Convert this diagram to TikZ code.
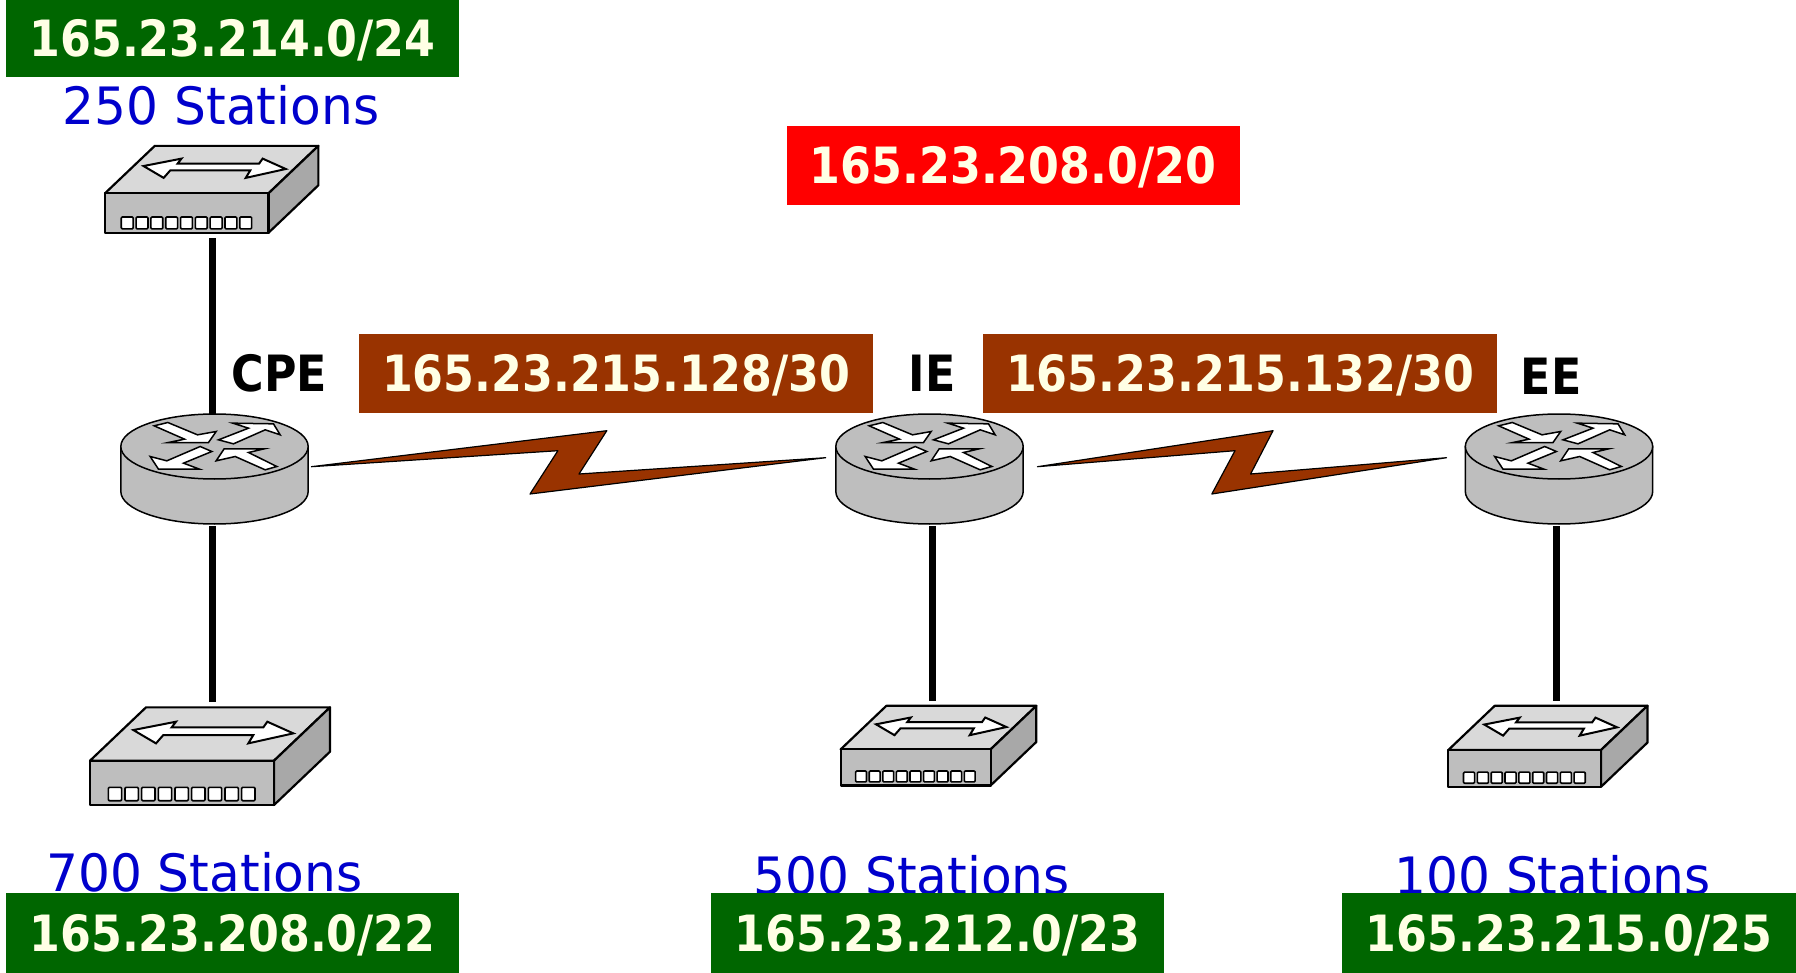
\documentclass[tikz,border=0pt]{standalone}
\usepackage{fontspec}
\setmainfont{DejaVu Sans}
\newfontfamily\boldlbl[FakeStretch=.887]{DejaVu Sans Bold}
\newfontfamily\plainlbl[FakeStretch=.975]{DejaVu Sans}
\definecolor{netgreen}{HTML}{006600}
\definecolor{netbrown}{HTML}{993300}
\definecolor{netred}{HTML}{FF0000}
\definecolor{netblue}{HTML}{0000CC}
\definecolor{netcream}{HTML}{FFFFE5}
\definecolor{devmid}{HTML}{BEBEBE}
\definecolor{devlight}{HTML}{D9D9D9}
\definecolor{devdark}{HTML}{A8A8A8}
\tikzset{
  prefix/.style={fill=#1,text=netcream,inner sep=0pt,minimum width=453pt,
    text height=36.5pt,text depth=0pt,align=center,
    font=\boldlbl\fontsize{50}{60}\selectfont},
  stationlbl/.style={text=netblue,inner sep=0pt,anchor=base,
    font=\plainlbl\fontsize{51.5}{60}\selectfont},
  routerlbl/.style={text=black,inner sep=0pt,anchor=base,
    font=\boldlbl\fontsize{50}{60}\selectfont},
  ghost/.style={inner sep=0pt,minimum width=10pt},
  lanlink/.style={line width=6.5pt,black},
  wanlink/.style={fill=netbrown,draw=black,line width=1.2pt,line join=round},
  glyph/.style={fill=white,draw=black,line width=1.5pt,line join=miter},
  router/.pic={
    \begin{scope}[scale=1/3]
    \path[draw=black,fill=devmid,line width=1.5pt]
      (-281,0) -- (-281,135) arc[start angle=180,end angle=0,x radius=281,y radius=97.5]
      -- (281,0) -- cycle;
    \path[draw=black,fill=devmid,line width=1.5pt] (0,0) ellipse[x radius=281,y radius=97.5];
    \path[glyph] (-181,-62) -- (-140,-72) -- (-51,-35) -- (5,-45) -- (-18,-12) -- (-138,-12) -- (-90,-22) -- cycle;
    \path[glyph] (12,-20) -- (102,-55) -- (55,-70) -- (177,-68) -- (197,-35) -- (152,-50) -- (57,-8) -- cycle;
    \path[glyph] (-43,0) -- (-8,15) -- (-93,50) -- (-45,68) -- (-168,68) -- (-193,30) -- (-143,43) -- cycle;
    \path[glyph] (187,60) -- (152,70) -- (62,30) -- (5,43) -- (29,7) -- (149,7) -- (102,18) -- cycle;
    \end{scope}
  },
  switchbox/.pic={
    \begin{scope}[scale=1/3,line join=round]
    \path[draw=black,fill=devlight,line width=2.2pt] (0,0) -- (168,-160) -- (720,-160) -- (552,0) -- cycle;
    \path[draw=black,fill=devdark,line width=2.2pt] (552,0) -- (720,-160) -- (720,-27) -- (552,133) -- cycle;
    \path[draw=black,fill=devmid,line width=2.2pt] (0,0) rectangle (552,133);
    \path[glyph,line width=2pt] (130,-92) -- (258,-117) -- (245,-100) -- (520,-100) -- (532,-117) -- (610,-82) -- (475,-52) -- (490,-77) -- (220,-77) -- (198,-52) -- cycle;
    \foreach \k in {0,...,8}
      \path[draw=black,fill=white,line width=1.6pt,rounded corners=1pt] ({55+50*\k},80) rectangle ++(40,40);
    \end{scope}
  }
}
\begin{document}
\begin{tikzpicture}[x=1pt,y=-1pt]
\useasboundingbox[fill=white] (0,0) rectangle (1796,973);

% invisible anchors of the devices
\node[ghost,minimum height=91.3pt] (sw1) at (212.7,192.35) {};
\node[ghost,minimum height=112pt] (r1) at (212.7,470) {};
\node[ghost,minimum height=100pt] (sw2) at (212.7,752) {};
\node[ghost,minimum height=112pt] (r2) at (932.7,470) {};
\node[ghost,minimum height=85pt] (sw3) at (932.7,743.5) {};
\node[ghost,minimum height=112pt] (r3) at (1556.7,470) {};
\node[ghost,minimum height=85pt] (sw4) at (1556.7,743.5) {};
\coordinate (b1a) at (311.4,466.7);
\coordinate (b1b) at (825.7,457.7);
\coordinate (b2a) at (1037.5,466.7);
\coordinate (b2b) at (1446.5,457.7);

% LAN links
\draw[lanlink] (sw1.south) -- (r1.north);
\draw[lanlink] (r1.south) -- (sw2.north);
\draw[lanlink] (r2.south) -- (sw3.north);
\draw[lanlink] (r3.south) -- (sw4.north);

% WAN links
\path[wanlink] (b1a) -- (606.8,430.7) -- (579,474) -- (b1b) -- (530,494) -- (557.9,450.7) -- cycle;
\path[wanlink] (b2a) -- (1273,430.7) -- (1250.6,474) -- (b2b) -- (1211.8,494) -- (1235,450.7) -- cycle;

% devices
\pic at (214.5,446.5) {router};
\pic at (929.5,446.5) {router};
\pic at (1559,446.5) {router};
\pic[scale=.889] at (105,193.3) {switchbox};
\pic at (90,760.7) {switchbox};
\pic[scale=.815] at (840.7,749.3) {switchbox};
\pic[scale=.83] at (1448.3,750) {switchbox};

% station labels
\node[stationlbl] (st250) at (221,125) {250 Stations};
\node[stationlbl] (st700) at (204.5,891) {700 Stations};
\node[stationlbl] (st500) at (911.7,894.5) {500 Stations};
\node[stationlbl] (st100) at (1552.6,894.5) {100 Stations};

% router labels
\node[routerlbl] (cpe) at (279.5,391.7) {CPE};
\node[routerlbl] (ie) at (932,391.7) {IE};
\node[routerlbl] (ee) at (1551,395) {EE};

% prefixes
\node[prefix=netgreen,minimum height=77pt] (p214) at (232.5,38.5) {165.23.214.0/24};
\node[prefix=netred,minimum height=79pt] (p208) at (1013,165.5) {165.23.208.0/20};
\node[prefix=netbrown,minimum height=78.7pt,minimum width=514pt] (p128) at (616,373.4) {165.23.215.128/30};
\node[prefix=netbrown,minimum height=78.7pt,minimum width=514pt] (p132) at (1240,373.4) {165.23.215.132/30};
\node[prefix=netgreen,minimum height=80pt] (p22) at (232.5,933) {165.23.208.0/22};
\node[prefix=netgreen,minimum height=80pt] (p23) at (937.5,933) {165.23.212.0/23};
\node[prefix=netgreen,minimum height=80pt,minimum width=454pt] (p25) at (1569,933) {165.23.215.0/25};
\end{tikzpicture}
\end{document}
